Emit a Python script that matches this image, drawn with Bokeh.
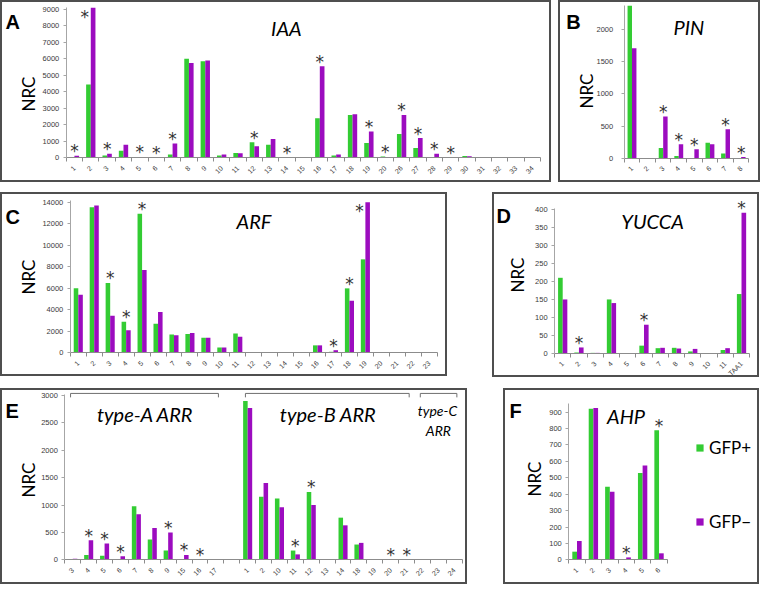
import math
from bokeh.plotting import figure
from bokeh.models import (Range1d, FixedTicker, Label, Legend, LegendItem,
                          ColumnDataSource, Spacer, LinearAxis)
from bokeh.layouts import row, column
from bokeh.core.properties import value
from bokeh.transform import dodge
from bokeh.embed import file_html
from bokeh.resources import INLINE

# ---------------- data (NRC, GFP+ / GFP-) ----------------
iaa_labels = ["1", "2", "3", "4", "5", "6", "7", "8", "9", "10", "11", "12", "13", "14", "15",
              "16", "17", "18", "19", "20", "26", "27", "28", "29", "30", "31", "32", "33", "34"]
iaa_gfp_pos = [10, 4450, 150, 430, 10, 0, 200, 6000, 5850, 150, 300, 950, 800, 0, 0,
               2400, 150, 2600, 900, 80, 1450, 600, 0, 0, 120, 50, 40, 10, 0]
iaa_gfp_neg = [130, 9100, 250, 800, 60, 10, 870, 5750, 5900, 200, 280, 700, 1150, 0, 0,
               5550, 200, 2650, 1600, 0, 2600, 1200, 250, 0, 100, 20, 50, 0, 0]
iaa_sig = ["1", "2", "3", "5", "6", "7", "12", "14", "16", "19", "20", "26", "27", "28", "29"]

pin_labels = ["1", "2", "3", "4", "5", "6", "7", "8"]
pin_gfp_pos = [2370, 0, 160, 35, 0, 240, 75, 0]
pin_gfp_neg = [1710, 0, 650, 220, 140, 220, 450, 20]
pin_sig = ["3", "4", "5", "7", "8"]

arf_labels = ["1", "2", "3", "4", "5", "6", "7", "8", "9", "10", "11", "12",
              "13", "14", "15", "16", "17", "18", "19", "20", "21", "22", "23"]
arf_gfp_pos = [6000, 13550, 6500, 2900, 12950, 2700, 1700, 1750, 1400, 500, 1800, 0,
               0, 0, 0, 700, 100, 6000, 8700, 0, 0, 0, 0]
arf_gfp_neg = [5400, 13700, 3450, 2100, 7700, 3800, 1650, 1850, 1400, 500, 1500, 0,
               0, 0, 0, 700, 250, 4850, 14000, 0, 0, 0, 0]
arf_sig = ["3", "4", "5", "17", "18", "19"]

yuc_labels = ["1", "2", "3", "4", "5", "6", "7", "8", "9", "10", "11", "TAA1"]
yuc_gfp_pos = [210, 3, 2, 150, 1, 22, 15, 16, 6, 0, 10, 165]
yuc_gfp_neg = [150, 17, 2, 140, 1, 80, 16, 14, 13, 0, 15, 390]
yuc_sig = ["2", "6", "TAA1"]

arr_labels = ["3", "4", "5", "6", "7", "8", "9", "15", "16", "17", "",
              "1", "2", "10", "11", "12", "13", "14", "18", "19", "20", "21",
              "22", "23", "24"]
arr_gfp_pos = [0, 90, 75, 10, 980, 370, 170, 10, 0, 0, 0,
               2900, 1150, 1120, 170, 1240, 0, 770, 280, 0, 0, 0,
               0, 0, 0]
arr_gfp_neg = [20, 360, 300, 65, 830, 580, 500, 90, 0, 0, 0,
               2770, 1400, 960, 100, 1000, 0, 630, 310, 0, 0, 0,
               0, 0, 0]
arr_sig = ["4", "5", "6", "9", "15", "16", "11", "12", "20", "21"]
arr_groups = [("type-A ARR", "3", "17"), ("type-B ARR", "1", "21"), ("type-C ARR", "22", "24")]

ahp_labels = ["1", "2", "3", "4", "5", "6"]
ahp_gfp_pos = [50, 920, 445, 0, 530, 790]
ahp_gfp_neg = [115, 925, 415, 15, 575, 40]
ahp_sig = ["4", "6"]

GREEN = "#33cc33"
PURPLE = "#9c0cbf"
K = 0.985


def S(v):
    return int(round(v * K))


def add_label(p, to_data, px, py, text, size, font="Lato", style="normal",
              align="left", baseline="alphabetic", angle=0.0, color="black"):
    x, y = to_data(px, py)
    p.add_layout(Label(x=x, y=y, text=text, text_font=font, text_font_size=f"{size}px",
                       text_font_style=style, text_align=align, text_baseline=baseline,
                       angle=angle, text_color=color))


def panel(box, fx, zero, unit, bound, yticks, labels, gpos, gneg, sig, ystandoff=4):
    """box/fx/zero are positions in the reference picture; unit = px per NRC unit."""
    x0, y0, x1, y1 = box
    L = S(x0 - 3)
    T = S(y0 - 3)
    W = S(x1 - 3) - L
    H = S(y1 - 3) - T
    n = len(labels)

    def to_data(px, py):
        return 0.5 + (px - fx[0]) * n / (fx[1] - fx[0]), (zero - py) / unit

    xs0, ye = to_data(x0, y0)
    xe, ys0 = to_data(x1, y1)
    p = figure(width=W, height=H, x_range=Range1d(xs0, xe), y_range=Range1d(ys0, ye),
               x_axis_type=None, y_axis_type=None,
               min_border_left=0, min_border_right=0, min_border_top=0, min_border_bottom=0,
               output_backend="svg", toolbar_location=None, tools="")
    p.outline_line_color = None
    p.border_fill_color = None
    p.background_fill_color = None
    p.styles = {"box-shadow": "inset 0 0 0 2px #4f4f4f"}

    xs = list(range(1, n + 1))
    src = ColumnDataSource(dict(x=xs, g=gpos, m=gneg))
    bw = 0.285
    rg = p.vbar(x=dodge("x", -bw / 2), top="g", width=bw, source=src,
                fill_color=GREEN, line_color=None)
    rp = p.vbar(x=dodge("x", bw / 2), top="m", width=bw, source=src,
                fill_color=PURPLE, line_color=None)

    xa = LinearAxis(fixed_location=0, bounds=(0.5, n + 0.5))
    xa.ticker = FixedTicker(ticks=xs, minor_ticks=[i + 0.5 for i in range(n + 1)])
    xa.major_label_overrides = {i: lab for i, lab in zip(xs, labels)}
    xa.major_tick_line_color = None
    xa.minor_tick_line_color = "#8c8c8c"
    xa.minor_tick_in = 0
    xa.minor_tick_out = 4
    xa.axis_line_color = "#8c8c8c"
    xa.major_label_orientation = math.pi / 4
    xa.major_label_text_font = "Liberation Sans"
    xa.major_label_text_font_size = "7px"
    xa.major_label_text_color = "#3a3a3a"
    xa.major_label_standoff = 3
    p.add_layout(xa, "below")

    ya = LinearAxis(fixed_location=0.5, bounds=(0, bound))
    ya.ticker = FixedTicker(ticks=yticks)
    ya.axis_line_color = "#a6a6a6"
    ya.major_tick_line_color = "#a6a6a6"
    ya.major_tick_in = 0
    ya.major_tick_out = 3
    ya.minor_tick_line_color = None
    ya.major_label_text_font = "Liberation Sans"
    ya.major_label_text_font_size = "7.5px"
    ya.major_label_text_color = "#3a3a3a"
    ya.major_label_standoff = ystandoff
    p.add_layout(ya, "left")

    # significance asterisks
    sx, sy, xo, yo = [], [], [], []
    for i, lab in enumerate(labels):
        if lab in sig:
            top = max(gpos[i], gneg[i])
            sx.append(i + 1)
            sy.append(top)
            if top > 0.98 * bound:
                xo.append(-6)
                yo.append(9)
            else:
                xo.append(0)
                yo.append(-4.5)
    ssrc = ColumnDataSource(dict(x=sx, y=sy, xo=xo, yo=yo))
    p.text(x="x", y="y", x_offset="xo", y_offset="yo", text=value("*"), source=ssrc,
           text_font=value("DejaVu Sans"), text_font_size=value("17px"),
           text_align="center", text_baseline="middle", text_color="#333333")

    return p, to_data, rg, rp, (L, T, W, H)


# ---------------- panels ----------------
pA, dA, _, _, gA = panel((3, 3, 562, 188), (69.7, 551), 163, 151 / 9000, 9120,
                         list(range(0, 9001, 1000)), iaa_labels, iaa_gfp_pos, iaa_gfp_neg, iaa_sig)
add_label(pA, dA, 8, 25, "A", 20, font="Liberation Sans", style="bold")
add_label(pA, dA, 293, 31, "IAA", 20, style="italic", align="center")
add_label(pA, dA, 31, 98, "NRC", 17, align="center", baseline="middle", angle=math.pi / 2)

pB, dB, _, _, gB = panel((569, 3, 775, 188), (636, 763.2), 163.4, 32.7 / 500, 2380,
                         [0, 500, 1000, 1500, 2000], pin_labels, pin_gfp_pos, pin_gfp_neg, pin_sig,
                         ystandoff=8)
add_label(pB, dB, 577, 25, "B", 20, font="Liberation Sans", style="bold")
add_label(pB, dB, 702, 30, "PIN", 20, style="italic", align="center")
add_label(pB, dB, 597.5, 95, "NRC", 17, align="center", baseline="middle", angle=math.pi / 2)

pC, dC, _, _, gC = panel((3, 198, 457, 385), (73.9, 446.5), 361, 153 / 14000, 14150,
                         list(range(0, 14001, 2000)), arf_labels, arf_gfp_pos, arf_gfp_neg, arf_sig)
add_label(pC, dC, 8, 223, "C", 20, font="Liberation Sans", style="bold")
add_label(pC, dC, 260.5, 227, "ARF", 20, style="italic", align="center")
add_label(pC, dC, 31, 284, "NRC", 17, align="center", baseline="middle", angle=math.pi / 2)

pD, dD, _, _, gD = panel((503, 198, 774, 386), (566, 764), 361.7, 146.7 / 400, 403,
                         list(range(0, 401, 50)), yuc_labels, yuc_gfp_pos, yuc_gfp_neg, yuc_sig)
add_label(pD, dD, 507, 222, "D", 20, font="Liberation Sans", style="bold")
add_label(pD, dD, 665.5, 227, "YUCCA", 20, style="italic", align="center")
add_label(pD, dD, 528, 282, "NRC", 17, align="center", baseline="middle", angle=math.pi / 2)

pE, dE, _, _, gE = panel((3, 397, 477, 596), (68.3, 471.7), 571, 167 / 3000, 3010,
                         list(range(0, 3001, 500)), arr_labels, arr_gfp_pos, arr_gfp_neg, arr_sig)
add_label(pE, dE, 8, 420, "E", 20, font="Liberation Sans", style="bold")
add_label(pE, dE, 31.5, 490, "NRC", 17, align="center", baseline="middle", angle=math.pi / 2)
# group brackets
bx, by = [], []
_, b_top = dE(0, 402)
_, b_low = dE(0, 406)
for name, first, last in arr_groups:
    i0 = arr_labels.index(first) + 1 - 0.14
    i1 = arr_labels.index(last) + 1 + 0.16
    bx.append([i0, i0, i1, i1])
    by.append([b_low, b_top, b_top, b_low])
pE.multi_line(xs=bx, ys=by, line_color="#707070", line_width=1)
add_label(pE, dE, 150, 423, "type-A ARR", 20, style="italic", align="center")
add_label(pE, dE, 335.5, 423, "type-B ARR", 20, style="italic", align="center")
add_label(pE, dE, 446.5, 419, "type-C", 14, style="italic", align="center")
add_label(pE, dE, 447.5, 440, "ARR", 14, style="italic", align="center")

pF, dF, rgF, rpF, gF = panel((514, 397, 774, 596), (580.3, 680.3), 571, 150 / 900, 950,
                             list(range(0, 901, 100)), ahp_labels, ahp_gfp_pos, ahp_gfp_neg, ahp_sig)
add_label(pF, dF, 520, 420, "F", 20, font="Liberation Sans", style="bold")
add_label(pF, dF, 638.5, 425, "AHP", 20, style="italic", align="center")
add_label(pF, dF, 545, 489, "NRC", 17, align="center", baseline="middle", angle=math.pi / 2)
vx = S(709 - 514)
vy = S(596 - 543.5)
legend = Legend(items=[LegendItem(label="GFP+", renderers=[rgF]),
                       LegendItem(label="GFP\u2212", renderers=[rpF])],
                location=(vx, vy), orientation="vertical", glyph_width=9, glyph_height=9,
                label_standoff=5, label_text_font="Lato", label_text_font_size="17px",
                label_text_color="black", spacing=53, padding=0, margin=0,
                border_line_color=None, background_fill_alpha=0)
pF.add_layout(legend)

# ---------------- layout ----------------
def hrow(a, ga, b, gb):
    gap = gb[0] - (ga[0] + ga[2])
    return row(a, Spacer(width=gap, height=1), b)

r1 = hrow(pA, gA, pB, gB)
r2 = hrow(pC, gC, pD, gD)
r3 = hrow(pE, gE, pF, gF)
h1 = max(gA[3], gB[3])
h2 = max(gC[3], gD[3])
lay = column(r1, Spacer(height=gC[1] - h1, width=1), r2,
             Spacer(height=gE[1] - (gC[1] + h2), width=1), r3)

open("out.html", "w").write(file_html(lay, INLINE))
